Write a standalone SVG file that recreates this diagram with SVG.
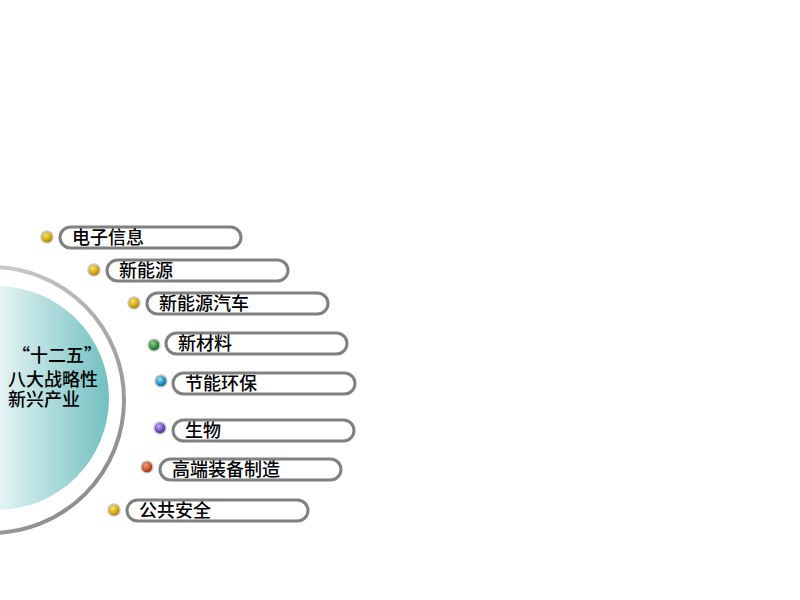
<svg xmlns="http://www.w3.org/2000/svg" width="800" height="600" viewBox="0 0 800 600">
<defs>
<linearGradient id="ring" x1="0" y1="0" x2="1" y2="1">
<stop offset="0" stop-color="#e6e6e6"/><stop offset="0.6" stop-color="#a8a8a8"/><stop offset="1" stop-color="#808080"/>
</linearGradient>
<linearGradient id="disc" x1="0" y1="0" x2="1" y2="0">
<stop offset="0.4" stop-color="#ffffff"/><stop offset="1" stop-color="#72c0c0"/>
</linearGradient>
<radialGradient id="gold" cx="0.4" cy="0.35" r="0.7"><stop offset="0" stop-color="#f5e27a"/><stop offset="0.6" stop-color="#d4a800"/><stop offset="1" stop-color="#8a6a00"/></radialGradient>
<radialGradient id="green" cx="0.4" cy="0.35" r="0.7"><stop offset="0" stop-color="#8fd08f"/><stop offset="0.6" stop-color="#2e8b3e"/><stop offset="1" stop-color="#1a5a25"/></radialGradient>
<radialGradient id="blue" cx="0.4" cy="0.35" r="0.7"><stop offset="0" stop-color="#9fe0f5"/><stop offset="0.6" stop-color="#1890c0"/><stop offset="1" stop-color="#0a5a80"/></radialGradient>
<radialGradient id="purple" cx="0.4" cy="0.35" r="0.7"><stop offset="0" stop-color="#c0b0f0"/><stop offset="0.6" stop-color="#6a4cc0"/><stop offset="1" stop-color="#402a80"/></radialGradient>
<radialGradient id="red" cx="0.4" cy="0.35" r="0.7"><stop offset="0" stop-color="#f0a080"/><stop offset="0.6" stop-color="#c84a20"/><stop offset="1" stop-color="#802a10"/></radialGradient>
</defs>
<style>
.pill{fill:#ffffff;stroke:#808080;stroke-width:3}
.dot{stroke:#c8c8c8;stroke-width:1.5}
.lbl{font-family:"Noto Sans CJK SC","Liberation Sans",sans-serif;font-size:18px;font-weight:500;fill:#000}
.ctr{font-family:"Noto Sans CJK SC","Liberation Sans",sans-serif;font-size:18px;font-weight:500;fill:#000}
</style>
<rect width="800" height="600" fill="#ffffff"/>
<g id="hub">
<circle cx="-9" cy="400" r="133" fill="none" stroke="url(#ring)" stroke-width="4"/>
<circle cx="-3" cy="398" r="112" fill="url(#disc)"/>
<text class="ctr" x="57" y="362" text-anchor="middle">“十二五”</text>
<text class="ctr" x="8" y="386">八大战略性</text>
<text class="ctr" x="8" y="406">新兴产业</text>
</g>
<g id="n1"><circle class="dot" cx="47" cy="237" r="6" fill="url(#gold)"/><rect class="pill" x="60" y="227" width="181" height="21" rx="10.5"/><text class="lbl" x="72" y="243.5">电子信息</text></g>
<g id="n2"><circle class="dot" cx="94" cy="270" r="6" fill="url(#gold)"/><rect class="pill" x="107" y="260" width="181" height="21" rx="10.5"/><text class="lbl" x="119" y="276.5">新能源</text></g>
<g id="n3"><circle class="dot" cx="134" cy="303" r="6" fill="url(#gold)"/><rect class="pill" x="147" y="293" width="181" height="21" rx="10.5"/><text class="lbl" x="159" y="309.5">新能源汽车</text></g>
<g id="n4"><circle class="dot" cx="154" cy="345" r="6" fill="url(#green)"/><rect class="pill" x="166" y="333" width="181" height="21" rx="10.5"/><text class="lbl" x="178" y="349.5">新材料</text></g>
<g id="n5"><circle class="dot" cx="161" cy="381" r="6" fill="url(#blue)"/><rect class="pill" x="173" y="373" width="182" height="21" rx="10.5"/><text class="lbl" x="185" y="389.5">节能环保</text></g>
<g id="n6"><circle class="dot" cx="160" cy="428" r="6" fill="url(#purple)"/><rect class="pill" x="173" y="420" width="181" height="21" rx="10.5"/><text class="lbl" x="185" y="436.5">生物</text></g>
<g id="n7"><circle class="dot" cx="147" cy="467" r="6" fill="url(#red)"/><rect class="pill" x="160" y="459" width="181" height="21" rx="10.5"/><text class="lbl" x="172" y="475.5">高端装备制造</text></g>
<g id="n8"><circle class="dot" cx="114" cy="510" r="6" fill="url(#gold)"/><rect class="pill" x="127" y="500" width="181" height="21" rx="10.5"/><text class="lbl" x="139" y="516.5">公共安全</text></g>
<g id="connectors"></g>
</svg>
